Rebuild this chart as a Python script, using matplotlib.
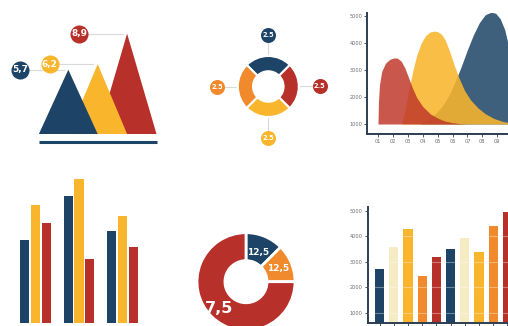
import numpy as np
import matplotlib
matplotlib.use("Agg")
import matplotlib.pyplot as plt

# Canvas size in pixels (figure is drawn at dpi=100)
W, H = 508, 326

NAVY = "#1d4466"
YELLOW = "#f9b52c"
ORANGE = "#f08a2c"
RED = "#b8302a"
CREAM = "#f6ebc3"
LEADER = "#d9d9d9"
TICK_GRAY = "#6b6b6b"
SPINE = "#2c3e50"
LABEL_FONT = ["Liberation Sans Narrow", "DejaVu Sans"]

# ----------------------------------------------------------------------------
# Data
# ----------------------------------------------------------------------------

# Peaks (triangles)
peak_values = [5.7, 6.2, 8.9]
peak_labels = ["5,7", "6,2", "8,9"]
peak_colors = [NAVY, YELLOW, RED]

# Four-part ring
ring_values = [2.5, 2.5, 2.5, 2.5]
ring_labels = ["2.5", "2.5", "2.5", "2.5"]
ring_colors = [NAVY, ORANGE, YELLOW, RED]

# Overlapping waves
wave_red_x = [1.0, 1.03, 1.1, 1.25, 1.5, 1.8, 2.1, 2.3, 2.55, 2.8, 3.05, 3.3,
              3.6, 4.0, 4.5, 5.0, 5.5, 6.0, 6.5, 7.0]
wave_red_y = [1000, 1800, 2450, 2950, 3250, 3400, 3450, 3440, 3330, 3080, 2720,
              2350, 1980, 1650, 1380, 1220, 1110, 1050, 1015, 1000]
wave_yellow_x = [2.6, 2.85, 3.1, 3.35, 3.6, 3.9, 4.2, 4.5, 4.8, 5.0, 5.25, 5.5,
                 5.8, 6.1, 6.4, 6.8, 7.2, 7.7, 8.2, 8.8, 9.4, 10.0, 10.5]
wave_yellow_y = [1000, 1600, 2350, 3000, 3550, 4000, 4280, 4410, 4440, 4420,
                 4330, 4120, 3700, 3200, 2750, 2250, 1900, 1600, 1380, 1200,
                 1090, 1030, 1010]
wave_navy_x = [3.8, 4.3, 4.8, 5.3, 5.8, 6.2, 6.6, 7.0, 7.4, 7.8, 8.2, 8.6, 8.9,
               9.2, 9.5, 9.8, 10.1, 10.5]
wave_navy_y = [1000, 1150, 1350, 1650, 2100, 2600, 3150, 3750, 4300, 4750,
               5050, 5140, 5100, 4900, 4500, 3800, 2800, 1700]
wave_ticks = ["01", "02", "03", "04", "05", "06", "07", "08", "09"]
value_ticks = [1000, 2000, 3000, 4000, 5000]

# Grouped bars
group_navy = [8.3, 12.7, 9.2]
group_yellow = [11.8, 14.4, 10.7]
group_red = [10.0, 6.4, 7.6]

# Share donut
share_values = [12.5, 12.5, 75]
share_labels = ["12,5", "12,5", "7,5"]
share_colors = [NAVY, ORANGE, RED]

# Column chart
column_values = [2700, 3600, 4300, 2450, 3200, 3500, 3950, 3400, 4400, 4950]
column_colors = [NAVY, CREAM, YELLOW, ORANGE, RED] * 2


def add_px_axes(fig, left, top, right, bottom):
    """Axes placed by pixel box (origin at top-left of the canvas)."""
    return fig.add_axes([left / W, 1 - bottom / H,
                         (right - left) / W, (bottom - top) / H])


def style_axis(ax):
    for side in ("top", "right"):
        ax.spines[side].set_visible(False)
    for side in ("left", "bottom"):
        ax.spines[side].set_color(SPINE)
        ax.spines[side].set_linewidth(1.4)
    ax.tick_params(axis="both", direction="out", length=2, width=0.6,
                   color=SPINE, labelsize=3.6, labelcolor=TICK_GRAY, pad=1.5)


fig = plt.figure(figsize=(W / 100, H / 100), dpi=100)
fig.patch.set_facecolor("white")

# ----------------------------------------------------------------------------
# Triangles with value bubbles
# ----------------------------------------------------------------------------
ax = add_px_axes(fig, 0, 0, 170, 150)
ax.set_xlim(-2.323, 3.459)
ax.set_ylim(-1.418, 11.88)
ax.axis("off")
for i, (v, lab, c) in enumerate(zip(peak_values, peak_labels, peak_colors)):
    ax.fill([i - 1, i, i + 1], [0, v, 0], color=c, lw=0, zorder=3 - i)
    cx = i - 1.633
    ax.plot([cx + 0.3, i - 0.15], [v, v], color=LEADER, lw=0.8, zorder=0)
    ax.plot(cx, v, "o", ms=13, color=c, mec="none", zorder=5)
    ax.text(cx, v, lab, color="white", ha="center", va="center",
            fontsize=6.5, fontweight="bold", family=LABEL_FONT, zorder=6)
ax.plot([-1, 3], [-0.71, -0.71], color=NAVY, lw=2.2, solid_capstyle="butt")

# ----------------------------------------------------------------------------
# Four-part ring with bubbles
# ----------------------------------------------------------------------------
ax = add_px_axes(fig, 208.3, 26.5, 328.3, 146.5)
wedges, _ = ax.pie(ring_values, colors=ring_colors, startangle=45,
                   counterclock=True, radius=1,
                   wedgeprops=dict(width=0.5, edgecolor="white", linewidth=1.5))
for w, lab, c in zip(wedges, ring_labels, ring_colors):
    theta = np.deg2rad((w.theta1 + w.theta2) / 2)
    d = 1.68
    ax.plot([np.cos(theta) * 1.0, np.cos(theta) * (d - 0.25)],
            [np.sin(theta) * 1.0, np.sin(theta) * (d - 0.25)],
            color=LEADER, lw=0.8, zorder=0)
    ax.plot(np.cos(theta) * d, np.sin(theta) * d, "o", ms=10.8, color=c,
            mec="none", zorder=5)
    ax.text(np.cos(theta) * d, np.sin(theta) * d, lab, color="white",
            ha="center", va="center", fontsize=4.8, fontweight="bold",
            family=LABEL_FONT, zorder=6)
ax.set_xlim(-1.967, 1.967)
ax.set_ylim(-1.967, 1.967)

# ----------------------------------------------------------------------------
# Overlapping waves
# ----------------------------------------------------------------------------
ax = add_px_axes(fig, 367, 13.3, 520, 134)
ax.fill_between(wave_navy_x, 1000, wave_navy_y, color=NAVY, alpha=0.85, lw=0)
ax.fill_between(wave_yellow_x, 1000, wave_yellow_y, color=YELLOW, alpha=0.88, lw=0)
ax.fill_between(wave_red_x, 1000, wave_red_y, color="#c0392b", alpha=0.85, lw=0)
ax.set_xlim(0.262, 10.53)
ax.set_ylim(630, 5100)
ax.set_xticks(range(1, len(wave_ticks) + 1))
ax.set_xticklabels(wave_ticks)
ax.set_yticks(value_ticks)
style_axis(ax)

# ----------------------------------------------------------------------------
# Grouped bars
# ----------------------------------------------------------------------------
ax = add_px_axes(fig, 0, 160, 160, 322.7)
x = np.arange(len(group_navy))
bw = 0.214
ax.bar(x - 0.246, group_navy, bw, color=NAVY)
ax.bar(x, group_yellow, bw, color=YELLOW)
ax.bar(x + 0.246, group_red, bw, color=RED)
ax.set_xlim(-0.816, 2.862)
ax.set_ylim(0, 16.27)
ax.axis("off")

# ----------------------------------------------------------------------------
# Share donut
# ----------------------------------------------------------------------------
ax = add_px_axes(fig, 186, 221.7, 306, 341.7)
wedges, _ = ax.pie(share_values, colors=share_colors, startangle=90,
                   counterclock=False, radius=1,
                   wedgeprops=dict(width=0.57, edgecolor="white", linewidth=2))
for w, lab, size, dist in zip(wedges, share_labels, [6.5, 6.5, 11.5],
                              [0.64, 0.71, 0.78]):
    theta = np.deg2rad((w.theta1 + w.theta2) / 2)
    ax.text(np.cos(theta) * dist, np.sin(theta) * dist, lab, color="white",
            ha="center", va="center", fontsize=size, fontweight="bold",
            family=LABEL_FONT)
ax.set_xlim(-1.2245, 1.2245)
ax.set_ylim(-1.2245, 1.2245)

# ----------------------------------------------------------------------------
# Column chart
# ----------------------------------------------------------------------------
ax = add_px_axes(fig, 367.7, 207, 520, 322.7)
ax.bar(range(len(column_values)), column_values, width=0.654,
       color=column_colors)
ax.set_xlim(-0.83, 9.88)
ax.set_ylim(606, 5160)
ax.set_yticks(value_ticks)
ax.set_xticks(range(len(column_values)))
ax.set_xticklabels([])
ax.yaxis.grid(True, color="white", alpha=0.35, lw=0.8)
ax.set_axisbelow(False)
style_axis(ax)

fig.savefig("out.png", dpi=100, facecolor="white")
